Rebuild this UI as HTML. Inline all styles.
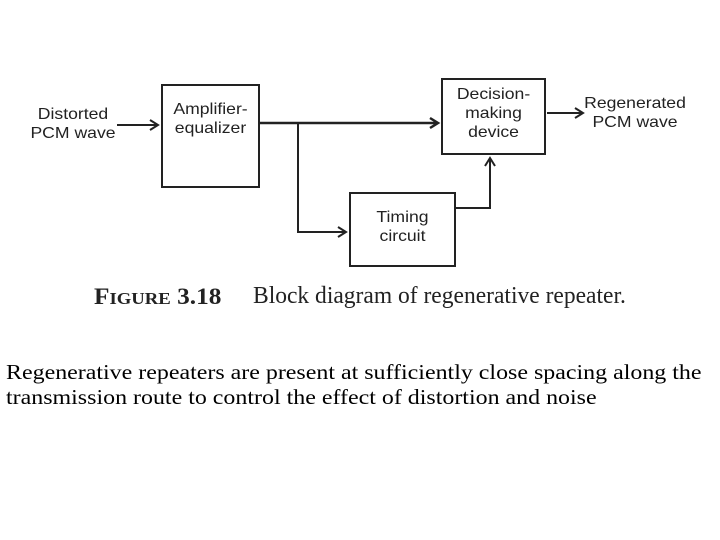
<!DOCTYPE html>
<html><head><style>
body{margin:0;width:720px;height:540px;background:#fff;position:relative;overflow:hidden}
.s{font-family:"Liberation Sans",sans-serif;font-size:16px;color:#222;position:absolute;text-align:center;line-height:19px;transform:scaleX(1.1)}
.p{position:absolute;left:6px;top:360px;font-family:"Liberation Serif",serif;font-size:21px;line-height:25px;color:#000;white-space:nowrap;transform:scaleX(1.14);transform-origin:0 0}
</style></head><body>
<svg width="720" height="540" style="position:absolute;left:0;top:0">
<g fill="none" stroke="#222" stroke-width="2">
<rect x="162" y="85" width="97" height="102"/>
<rect x="442" y="79" width="103" height="75"/>
<rect x="350" y="193" width="105" height="73"/>
<path d="M117 125H158M150 120L158 125L150 130"/>
<path d="M259 123H438M430 118L438 123L430 128" stroke-width="2.5"/>
<path d="M298 123V232H346M338 227L346 232L338 237"/>
<path d="M455 208H490V158M485 166L490 158L495 166"/>
<path d="M547 113H583M575 108L583 113L575 118"/>
</g>
</svg>
<div class="s" style="left:28px;top:105px;width:90px">Distorted<br>PCM wave</div>
<div class="s" style="left:162px;top:100px;width:97px">Amplifier-<br>equalizer</div>
<div class="s" style="left:442px;top:85px;width:103px">Decision-<br>making<br>device</div>
<div class="s" style="left:350px;top:208px;width:105px">Timing<br>circuit</div>
<div class="s" style="left:585px;top:94px;width:100px">Regenerated<br>PCM wave</div>
<div style="position:absolute;left:94px;top:284px;font-family:'Liberation Serif',serif;font-size:23px;font-weight:bold;color:#222;transform:scaleX(1.1);transform-origin:0 0">F<span style="font-size:17px">IGURE</span> 3.18</div>
<div style="position:absolute;left:253px;top:283px;font-family:'Liberation Serif',serif;font-size:24px;color:#222;white-space:nowrap;transform:scaleX(0.98);transform-origin:0 0">Block diagram of regenerative repeater.</div>
<div class="p">Regenerative repeaters are present at sufficiently close spacing along the<br>transmission route to control the effect of distortion and noise</div>
</body></html>
